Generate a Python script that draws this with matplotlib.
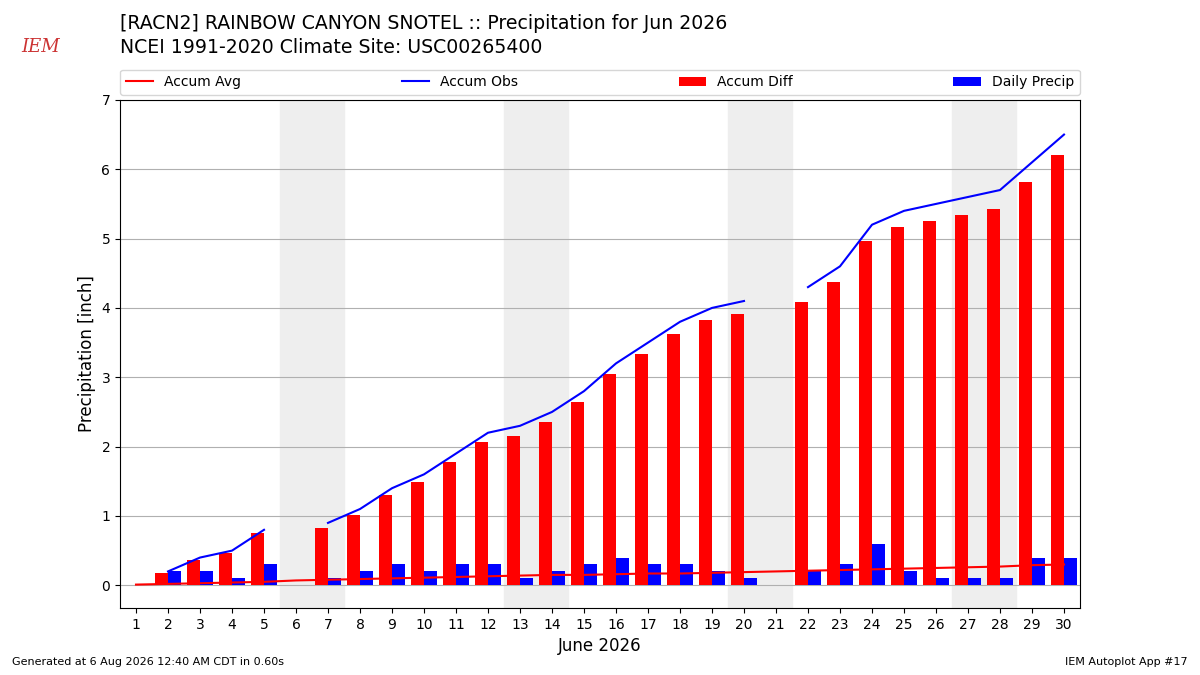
import matplotlib.pyplot as plt
import numpy as np

DAYS = list(range(1, 31))
ACCUM_AVG = [0.01, 0.02, 0.03, 0.04, 0.05, 0.07, 0.08, 0.09, 0.10, 0.11,
             0.12, 0.13, 0.14, 0.15, 0.15, 0.16, 0.17, 0.17, 0.18, 0.19,
             0.20, 0.21, 0.22, 0.23, 0.24, 0.25, 0.26, 0.27, 0.29, 0.30]
ACCUM_OBS = [np.nan, 0.2, 0.4, 0.5, 0.8, np.nan, 0.9, 1.1, 1.4, 1.6,
             1.9, 2.2, 2.3, 2.5, 2.8, 3.2, 3.5, 3.8, 4.0, 4.1,
             np.nan, 4.3, 4.6, 5.2, 5.4, 5.5, 5.6, 5.7, 6.1, 6.5]
DAILY_PRECIP = [np.nan, 0.2, 0.2, 0.1, 0.3, np.nan, 0.1, 0.2, 0.3, 0.2,
                0.3, 0.3, 0.1, 0.2, 0.3, 0.4, 0.3, 0.3, 0.2, 0.1,
                np.nan, 0.2, 0.3, 0.6, 0.2, 0.1, 0.1, 0.1, 0.4, 0.4]
WEEKENDS = [6, 13, 20, 27]  # first day of each shaded weekend


def draw_chart(out_file):
    days = np.array(DAYS)
    avg = np.array(ACCUM_AVG)
    obs = np.array(ACCUM_OBS)
    diff = obs - avg

    fig = plt.figure(figsize=(12, 6.75), dpi=100)
    ax = fig.add_axes([0.1, 0.099, 0.8, 0.753])

    # Shade the weekends
    for day in WEEKENDS:
        ax.axvspan(day - 0.5, day + 1.5, color='#eeeeee', zorder=0)

    ax.plot(days, avg, color='red', label='Accum Avg', zorder=3)
    ax.plot(days, obs, color='blue', label='Accum Obs', zorder=3)
    ax.bar(days - 0.4, diff, width=0.4, align='edge', color='red',
           label='Accum Diff', zorder=2)
    ax.bar(days, DAILY_PRECIP, width=0.4, align='edge', color='blue',
           label='Daily Precip', zorder=2)

    ax.set_xlim(0.5, 30.5)
    ax.set_ylim(-0.33, 7)
    ax.set_xticks(days)
    ax.set_yticks(range(0, 8))
    ax.yaxis.grid(True, color='#b0b0b0')
    ax.set_axisbelow(True)
    ax.set_xlabel("June 2026", fontsize=12)
    ax.set_ylabel("Precipitation [inch]", fontsize=12)
    ax.legend(loc='lower left', bbox_to_anchor=(0, 1.01, 1, 0.05),
              ncol=4, mode='expand', borderaxespad=0)

    fig.text(0.1, 0.965, "[RACN2] RAINBOW CANYON SNOTEL :: Precipitation for Jun 2026",
             fontsize=13.6, va='center')
    fig.text(0.1, 0.93, "NCEI 1991-2020 Climate Site: USC00265400",
             fontsize=13.6, va='center')
    fig.text(0.018, 0.93, "IEM", fontsize=13, color='#cc3333',
             style='italic', family='serif', va='center')
    fig.text(0.01, 0.015, "Generated at 6 Aug 2026 12:40 AM CDT in 0.60s",
             fontsize=8)
    fig.text(0.99, 0.015, "IEM Autoplot App #17", fontsize=8, ha='right')

    plt.savefig(out_file, dpi=100)
    plt.close(fig)


if __name__ == "__main__":
    draw_chart('out.png')
